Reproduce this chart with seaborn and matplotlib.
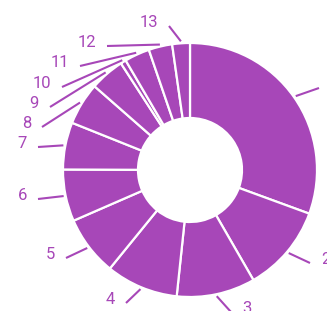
import numpy as np
import matplotlib
matplotlib.use("Agg")
import matplotlib.pyplot as plt
import seaborn as sns

# slice shares (clockwise from 12 o'clock)
labels = ["1", "2", "3", "4", "5", "6", "7", "8", "9", "10", "11", "12", "13"]
values = [30.6, 11.1, 10.0, 9.2, 7.6, 6.6, 6.0, 5.4, 4.4, 0.7, 3.2, 3.0, 2.25]

# where each leader line ends, in pixels from the top-left corner
label_ends = [(319, 88), (310, 263), (231, 312), (126, 303), (66, 258), (38, 199),
              (38, 147), (42, 127), (50, 107), (62, 87), (80, 66), (107, 46), (169, 26)]

sns.set_theme(style="white")
plt.rcParams["font.family"] = ["Roboto", "DejaVu Sans"]

purple = "#a747b8"
W, H = 327, 311
cx, cy, R, r_in = 190, H - 170, 127, 52

fig = plt.figure(figsize=(W / 100, H / 100), dpi=100)
ax = fig.add_axes([0, 0, 1, 1])

wedges, _ = ax.pie(
    values,
    colors=[purple] * len(values),
    startangle=90,
    counterclock=False,
    radius=R,
    center=(cx, cy),
    wedgeprops=dict(width=R - r_in, edgecolor="white", linewidth=1.6),
)

for w, lab, (ex, ey) in zip(wedges, labels, label_ends):
    mid = np.deg2rad((w.theta1 + w.theta2) / 2)
    sx, sy = cx + 129 * np.cos(mid), cy + 129 * np.sin(mid)
    ey_d = H - ey
    ax.plot([sx, ex], [sy, ey_d], color=purple, lw=1.5, solid_capstyle="butt")
    if ex < cx:
        ax.text(ex - 11, ey_d - 1, lab, ha="right", va="baseline", color=purple, fontsize=12)
    else:
        ax.text(ex + 11, ey_d - 1, lab, ha="left", va="baseline", color=purple, fontsize=12)

ax.set_xlim(0, W)
ax.set_ylim(0, H)
ax.set_aspect("equal")
ax.axis("off")

fig.savefig("out.png", dpi=100)
